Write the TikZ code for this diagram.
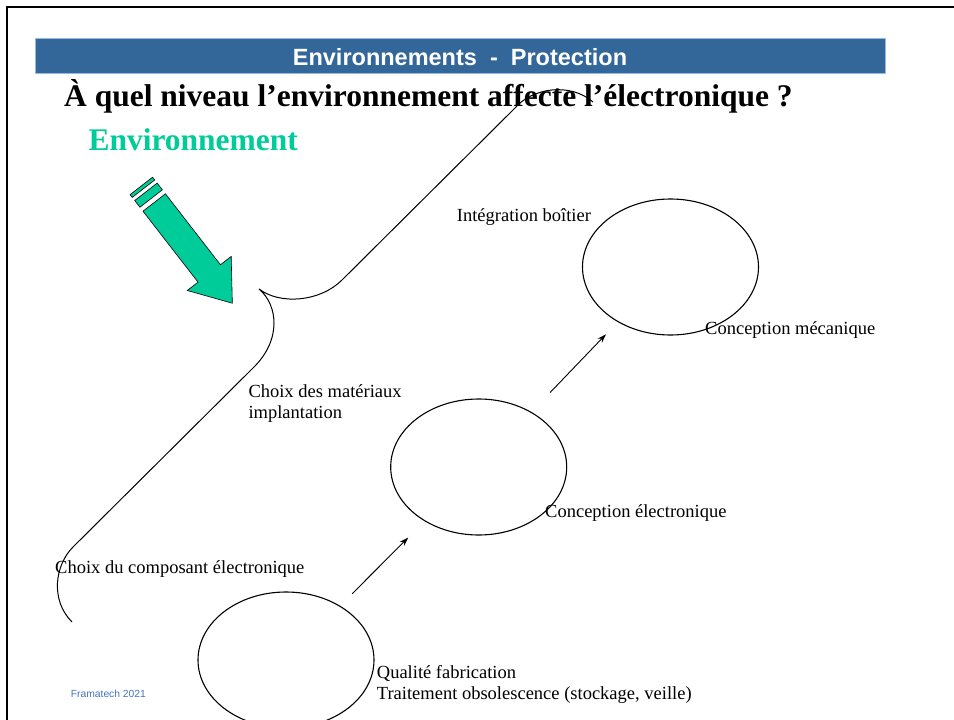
\documentclass[tikz,border=0pt]{standalone}
\usepackage{fontspec}
\setmainfont{Liberation Serif}
\newfontfamily\arialfont{Liberation Sans}
\usetikzlibrary{shapes.geometric, arrows.meta}

\definecolor{bandeau}{RGB}{51,102,153}
\definecolor{bandeaubord}{RGB}{150,185,225}
\definecolor{vertenv}{RGB}{0,204,153}
\definecolor{bleupied}{RGB}{68,114,196}

\begin{document}
\begin{tikzpicture}[x=1pt, y=-1pt, >={Stealth[length=9pt,width=6pt]}]
                \tikzstyle{etape}=[ellipse, draw, line width=1.1pt, minimum width=176pt, minimum height=136pt, inner sep=0pt]
                \tikzstyle{libelle}=[anchor=base west, inner sep=0pt, align=left, font=\fontsize{18.5}{21.5}\selectfont]
                \tikzstyle{fleche}=[->, line width=0.9pt]
                \tikzstyle{vert}=[fill=vertenv, draw=black, line width=0.6pt]

                \useasboundingbox (0,0) rectangle (954,720);
                \clip (0,0) rectangle (954,720);
                \draw[line width=2.5pt] (7,730) -- (7,7) -- (960,7);

                \draw[bandeaubord, fill=bandeau, line width=1pt] (35,38) rectangle (885,73);
                \node[anchor=base, inner sep=0pt, text=white, font=\arialfont\bfseries\fontsize{23.5}{28}\selectfont] (bandeau) at (460,65) {Environnements\ \ -\ \ Protection};
                \node[anchor=base west, inner sep=0pt, font=\bfseries\fontsize{31.5}{36}\selectfont] (titre) at (64,106.7) {À quel niveau l’environnement affecte l’électronique ?};
                \node[anchor=base west, inner sep=0pt, text=vertenv, font=\bfseries\fontsize{31.5}{36}\selectfont] (env) at (88.3,150) {Environnement};

                \begin{scope}[shift={(154.2,202.5)}, rotate=-52.2]
                \filldraw[vert] (0,-14.2) -- (89.8,-14.2) -- (89.8,-27.8) -- (127.5,0) -- (89.8,27.8) -- (89.8,14.2) -- (0,14.2) -- cycle;
                \filldraw[vert] (-13.5,-14.2) rectangle (-5,14.2);
                \filldraw[vert] (-21,-14.2) rectangle (-17.5,14.2);
                \end{scope}

                \draw[line width=1pt] (593,102) .. controls (570,82) and (532,88) .. (515,108)
                  -- (342,280) .. controls (320,302) and (280,305) .. (259,289)
                  .. controls (278,305) and (282,340) .. (253,368)
                  -- (73,547) .. controls (55,565) and (50,600) .. (72,622);

                \node[etape] (meca) at (670.5,267) {};
                \node[etape] (elec) at (478.7,467) {};
                \node[etape] (fab)  at (286,660) {};

                \path
                (fab)  edge[fleche, shorten <=17pt, shorten >=23pt] (elec)
                (elec) edge[fleche, shorten <=27pt, shorten >=17pt] (meca);

                \node[libelle] (integ)     at (456.7,221.7) {Intégration boîtier};
                \node[libelle] (concmeca)  at (705,334)     {Conception mécanique};
                \node[libelle] (materiaux) at (248.3,418.8) {Choix des matériaux\\implantation};
                \node[libelle] (concelec)  at (545,517.3)   {Conception électronique};
                \node[libelle] (composant) at (55,573.3)    {Choix du composant électronique};
                \node[libelle] (qualite)   at (376.7,699.8) {Qualité fabrication\\Traitement obsolescence (stockage, veille)};
                \node[anchor=base west, inner sep=0pt, text=bleupied, font=\arialfont\fontsize{10.3}{12}\selectfont] (pied) at (70.7,697.3) {Framatech 2021};
\end{tikzpicture}
\end{document}
